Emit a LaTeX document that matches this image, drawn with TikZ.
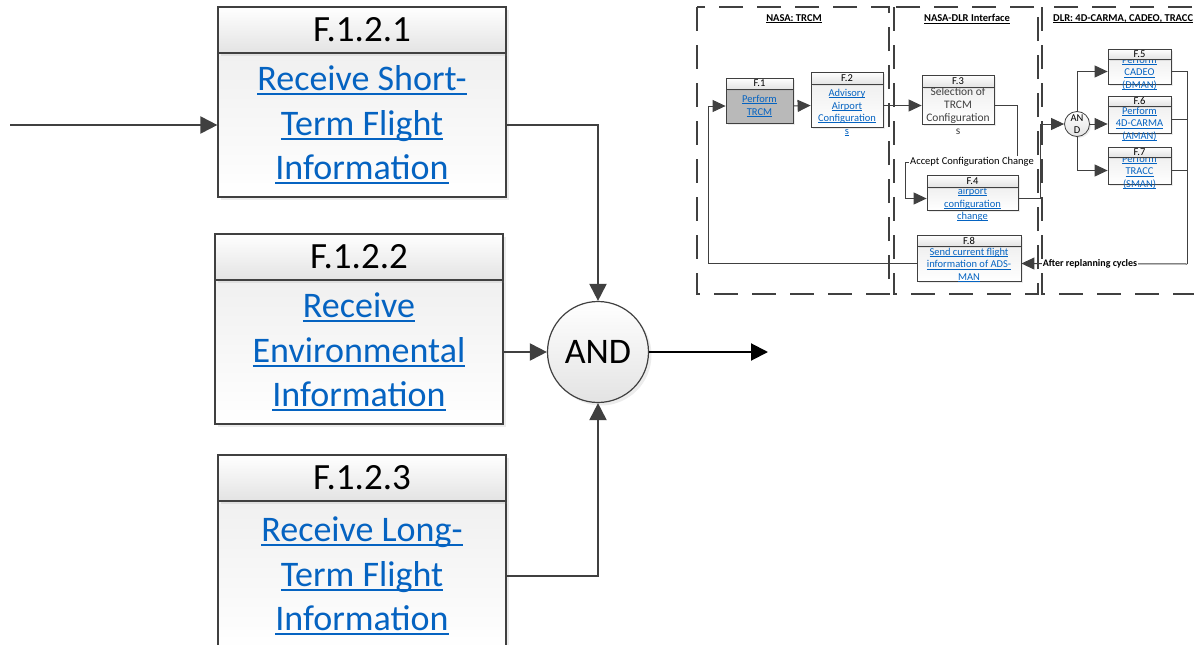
\documentclass[tikz,border=0pt]{standalone}
\usepackage{fontspec}
\setmainfont{Carlito}
\usetikzlibrary{arrows.meta,shadows}
\definecolor{lngray}{HTML}{404040}
\definecolor{linkblue}{HTML}{0563C1}
\newcommand\lnk[1]{\setbox0\hbox{#1}\rlap{\rule[-0.13em]{\wd0}{0.06em}}\box0}
\tikzset{
    hgrad/.style={fill=white, path picture={\shade[top color=white, bottom color=gray!22] (path picture bounding box.south west) rectangle (path picture bounding box.north east);}},
    bgrad/.style={fill=white, path picture={\shade[top color=gray!12, bottom color=white] (path picture bounding box.south west) rectangle (path picture bounding box.north east);}},
    big shadow/.style={drop shadow={shadow xshift=3pt, shadow yshift=-3pt, opacity=0.15}},
    sm shadow/.style={drop shadow={shadow xshift=1.5pt, shadow yshift=-1.5pt, opacity=0.15}},
    big hdr/.style={draw=lngray, line width=1.2pt, hgrad, big shadow, minimum width=288pt, minimum height=46pt, inner sep=0pt, font=\fontsize{37}{37}\selectfont},
    big body/.style={draw=lngray, line width=1.2pt, bgrad, big shadow, minimum width=288pt, inner sep=0pt, align=center, text=linkblue, font=\fontsize{36}{44.5}\selectfont},
    andgate/.style={circle, draw=lngray, line width=1.2pt, hgrad, big shadow, minimum size=101pt, inner sep=0pt, font=\fontsize{36}{36}\selectfont},
    ln/.style={draw=lngray, line width=2pt},
    arr/.style={-{Triangle[length=17pt, width=17pt]}},
    lane/.style={draw=lngray, line width=1.3pt, dash pattern=on 24pt off 14pt},
    lane title/.style={font=\fontsize{10.5}{10.5}\selectfont\bfseries, inner sep=0pt},
    sm hdr/.style={draw=lngray, line width=0.8pt, hgrad, sm shadow, inner sep=0pt, font=\fontsize{10.5}{10.5}\selectfont},
    sm body/.style={draw=lngray, line width=0.8pt, bgrad, sm shadow, inner sep=0pt},
    sm gbody/.style={draw=lngray, line width=0.8pt, fill=gray!55, sm shadow, inner sep=0pt},
    sm txt/.style={align=center, text=linkblue, inner sep=0pt, font=\fontsize{10.5}{12.5}\selectfont},
    sandgate/.style={circle, draw=lngray, line width=0.8pt, hgrad, sm shadow, minimum size=25pt, inner sep=0pt, align=center, font=\fontsize{10.5}{11.5}\selectfont},
    sln/.style={draw=lngray, line width=1pt},
    sarr/.style={-{Triangle[length=13pt, width=12pt]}},
    tag/.style={fill=white, inner sep=1pt, font=\fontsize{10.5}{10.5}\selectfont},
}
\begin{document}
\begin{tikzpicture}[x=1pt, y=-1pt]
\useasboundingbox (0,0) rectangle (1194,645);
\clip (0,0) rectangle (1194,645);
\foreach \i/\x/\y/\h/\t in {1/362/30/144/{\lnk{Receive Short-}\\\lnk{Term Flight}\\\lnk{Information}},
    2/359/257/144/{\lnk{Receive}\\\lnk{Environmental}\\\lnk{Information}},
    3/362/478/150/{\lnk{Receive Long-}\\\lnk{Term Flight}\\\lnk{Information}}} {
\node[big body, minimum height=\h] (b\i) at (\x,{\y+23+\h/2}) {\t};
\node[big hdr] (h\i) at (\x,\y) {F.1.2.\i};
}
\coordinate (in) at (10,125);
\coordinate (out) at (768,352);
\node[andgate] (and) at (598,352) {AND};
\draw[ln, arr] (in) -- (b1.west);
\draw[ln, arr] (b1.east) -| (and.north);
\draw[ln, arr] (b2.east) -- (and.west);
\draw[ln, arr] (b3.east) -| (and.south);
\draw[ln, arr, draw=black] (and.east) -- (out);
\draw[lane] (697,7) rectangle (889,294);
\draw[lane] (894,7) rectangle (1038,294);
\draw[lane] (1042,7) rectangle (1210,294);
\node[lane title] (t1) at (794,19) {\lnk{NASA: TRCM}};
\node[lane title] (t2) at (967,19) {\lnk{NASA-DLR Interface}};
\node[lane title, anchor=west] (t3) at (1053,19) {\lnk{DLR: 4D-CARMA, CADEO, TRACC}};
\node[sm gbody, minimum width=67, minimum height=34] (f1) at (759.5,106) {};
\node[sm txt] (x1) at (759.5,106) {\lnk{Perform}\\\lnk{TRCM}};
\node[sm hdr, minimum width=67, minimum height=11] (g1) at (759.5,83.5) {F.1};
\node[sm body, minimum width=72, minimum height=37] (f3) at (958,105.5) {};
\node[sm txt, text=lngray, font=\fontsize{11.5}{13}\selectfont] (x3) at (958,111.5) {Selection of\\TRCM\\Configuration\\s};
\node[sm hdr, minimum width=72, minimum height=12] (g3) at (958,81) {F.3};
\foreach \i/\x/\w/\ya/\hh/\bh/\ty/\t in {2/847/72/72/12/43/112.5/{\lnk{Advisory}\\\lnk{Airport}\\\lnk{Configuration}\\\lnk{s}},
    4/972.5/91/175/12/23/204.5/{\lnk{airport}\\\lnk{configuration}\\\lnk{change}},
    8/969/104/235/11/35/265/{\lnk{Send current flight}\\\lnk{information of ADS-}\\\lnk{MAN}},
    5/1139.5/63/49/10/25/73/{\lnk{Perform}\\\lnk{CADEO}\\\lnk{(DMAN)}},
    6/1139.5/63/96/10/27/124/{\lnk{Perform}\\\lnk{4D-CARMA}\\\lnk{(AMAN)}},
    7/1139.5/63/147/10/27/172/{\lnk{Perform}\\\lnk{TRACC}\\\lnk{(SMAN)}}} {
\node[sm body, minimum width=\w, minimum height=\bh] (f\i) at (\x,{\ya+\hh+\bh/2}) {};
\node[sm txt] (x\i) at (\x,\ty) {\t};
\node[sm hdr, minimum width=\w, minimum height=\hh] (g\i) at (\x,{\ya+\hh/2}) {F.\i};
}
\node[sandgate] (sand) at (1077,124) {AN\\D};
\draw[sln, sarr] (f8.west) -- ++(-208,0) |- (f1.west);
\draw[sln, sarr] (f1.east) -- (f2.west);
\draw[sln, sarr] (f2.east) -- (f3.west);
\coordinate (k1) at (1017,162);
\coordinate (k2) at (905,162);
\draw[sln, sarr] (f3.east) -| (k1) -- (k2) |- (f4.west);
\node[tag] (acc) at (972,162) {Accept Configuration Change};
\draw[sln, sarr] (f4.east) -- ++(22,0) |- (sand.west);
\draw[sln, sarr] (sand.north) |- (f5.west);
\draw[sln, sarr] (sand.east) -- (sand.east -| f6.west);
\draw[sln, sarr] (sand.south) |- (f7.west);
\coordinate (rr) at (1187,264);
\draw[sln] (f5.east) -| (rr);
\draw[sln] (f6.east) -- (f6.east -| rr);
\draw[sln] (f7.east) -- (f7.east -| rr);
\draw[sln, sarr] (rr) -- (f8.east);
\node[tag, font=\fontsize{10}{10}\selectfont\bfseries] (aft) at (1090,264) {After replanning cycles};
\end{tikzpicture}
\end{document}
